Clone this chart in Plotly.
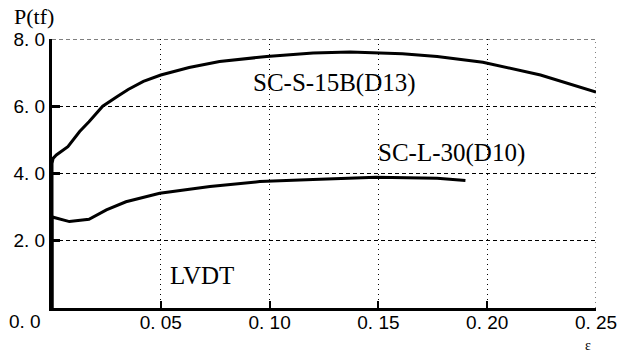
import plotly.graph_objects as go

# Load-strain curves of the two specimens
eps_s15b = [0.0, 0.0, 0.0005, 0.002, 0.0073, 0.0127, 0.017, 0.0233, 0.03, 0.035,
            0.042, 0.05, 0.063, 0.077, 0.0987, 0.12, 0.137, 0.161, 0.177, 0.198,
            0.2245, 0.25]
p_s15b = [0.0, 4.3, 4.45, 4.55, 4.8, 5.25, 5.54, 6.0, 6.29, 6.5,
          6.74, 6.93, 7.15, 7.33, 7.48, 7.58, 7.61, 7.56, 7.48, 7.31,
          6.93, 6.42]

eps_l30 = [0.0, 0.0, 0.0005, 0.008, 0.017, 0.025, 0.034, 0.0495,
           0.0726, 0.0955, 0.12, 0.149, 0.177, 0.19]
p_l30 = [0.0, 2.68, 2.70, 2.57, 2.64, 2.92, 3.16, 3.41,
         3.61, 3.76, 3.82, 3.89, 3.86, 3.79]

x_ticks = [0.05, 0.10, 0.15, 0.20, 0.25]
x_tick_text = ["0. 05", "0. 10", "0. 15", "0. 20", "0. 25"]
y_ticks = [0, 2, 4, 6, 8]
y_tick_text = ["", "2. 0", "4. 0", "6. 0", "8. 0"]
x_max, y_max = 0.25, 8

tick_font = dict(family="Liberation Sans, Arial, sans-serif", size=19, color="black")
serif = "Liberation Serif, Times New Roman, serif"

fig = go.Figure()
fig.add_trace(go.Scatter(x=eps_s15b, y=p_s15b, mode="lines",
                         line=dict(color="black", width=3), showlegend=False))
fig.add_trace(go.Scatter(x=eps_l30, y=p_l30, mode="lines",
                         line=dict(color="black", width=3), showlegend=False))

fig.update_xaxes(range=[0, x_max], tickvals=x_ticks, ticktext=x_tick_text,
                 tickfont=tick_font, ticks="inside", ticklen=7, tickwidth=2,
                 tickcolor="black", showline=True, linewidth=3, linecolor="black",
                 showgrid=True, gridcolor="black", gridwidth=1, griddash="1px,4px",
                 zeroline=False, fixedrange=True, ticklabelstandoff=-5)
fig.update_yaxes(range=[0, y_max], tickvals=y_ticks, ticktext=y_tick_text,
                 tickfont=tick_font, ticks="inside", ticklen=8, tickwidth=3,
                 tickcolor="black", showline=True, linewidth=3, linecolor="black",
                 showgrid=True, gridcolor="black", gridwidth=1, griddash="4px,3px",
                 zeroline=False, fixedrange=True)

# grid lines along the top and right edges of the plotting area
fig.add_shape(type="line", xref="x", yref="y", x0=0, x1=x_max, y0=y_max, y1=y_max,
              line=dict(color="black", width=1, dash="4px,3px"), layer="below")
fig.add_shape(type="line", xref="x", yref="y", x0=x_max, x1=x_max, y0=0, y1=y_max,
              line=dict(color="black", width=1, dash="1px,4px"), layer="below")

annotations = [
    dict(x=0.1297, y=6.7, text="SC-S-15B(D13)"),
    dict(x=0.1835, y=4.6, text="SC-L-30(D10)"),
    dict(x=0.069, y=0.98, text="LVDT"),
]
for a in annotations:
    fig.add_annotation(xref="x", yref="y", showarrow=False,
                       font=dict(family=serif, size=25, color="black"), **a)

fig.add_annotation(xref="paper", yref="paper", x=-0.074, y=1.0, yshift=23,
                   text="P(tf)", showarrow=False, xanchor="left", yanchor="middle",
                   font=dict(family=serif, size=22, color="black"))
fig.add_annotation(xref="paper", yref="paper", x=-0.05, y=0, yshift=-13,
                   text="0. 0", showarrow=False, xanchor="center", yanchor="middle",
                   font=tick_font)
fig.add_annotation(xref="paper", yref="paper", x=0.985, y=0, yshift=-37,
                   text="ε", showarrow=False, xanchor="center", yanchor="middle",
                   font=dict(family=serif, size=14, color="black"))

fig.update_layout(width=635, height=352, margin=dict(l=52, r=39, t=39, b=44),
                  plot_bgcolor="white", paper_bgcolor="white")

fig.write_html("out.html")
